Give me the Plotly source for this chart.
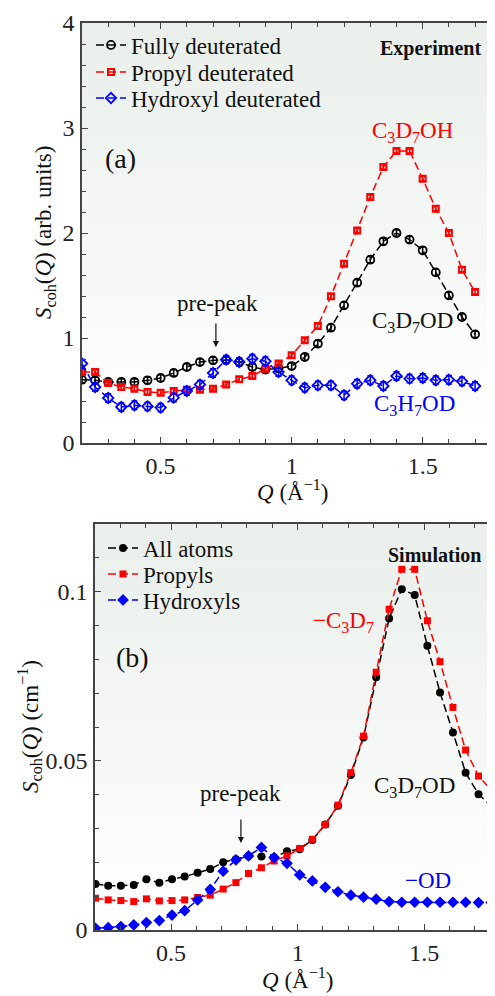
import plotly.graph_objects as go

# ---------------- data ----------------
q_exp = [0.20, 0.25, 0.30, 0.35, 0.40, 0.45, 0.50, 0.55, 0.60, 0.65, 0.70, 0.75, 0.80, 0.85, 0.90, 0.95,
         1.00, 1.05, 1.10, 1.15, 1.20, 1.25, 1.30, 1.35, 1.40, 1.45, 1.50, 1.55, 1.60, 1.65, 1.70]
exp_full = [0.603, 0.597, 0.581, 0.581, 0.581, 0.597, 0.619, 0.667, 0.724, 0.771, 0.787, 0.790, 0.770, 0.724, 0.700, 0.710,
            0.733, 0.819, 0.946, 1.098, 1.311, 1.527, 1.746, 1.921, 2.000, 1.937, 1.835, 1.625, 1.406, 1.200, 1.035]
exp_propyl = [0.676, 0.676, 0.571, 0.533, 0.517, 0.486, 0.479, 0.495, 0.508, 0.508, 0.517, 0.556, 0.606, 0.638, 0.708, 0.756,
              0.835, 0.978, 1.114, 1.397, 1.708, 2.025, 2.343, 2.629, 2.781, 2.781, 2.517, 2.232, 2.000, 1.651, 1.438]
exp_hydroxyl = [0.756, 0.533, 0.429, 0.343, 0.359, 0.349, 0.337, 0.432, 0.495, 0.556, 0.667, 0.794, 0.771, 0.803, 0.778, 0.676,
                0.597, 0.527, 0.549, 0.549, 0.454, 0.565, 0.597, 0.543, 0.638, 0.613, 0.619, 0.597, 0.603, 0.587, 0.543]
err_full = 0.03
err_propyl = 0.02
err_hydroxyl = 0.04

q_sim = [0.202, 0.252, 0.302, 0.353, 0.403, 0.454, 0.504, 0.554, 0.605, 0.655, 0.706, 0.756, 0.806, 0.857, 0.907, 0.958,
         1.008, 1.058, 1.109, 1.159, 1.210, 1.260, 1.310, 1.361, 1.411, 1.462, 1.512, 1.562, 1.613, 1.663, 1.714, 1.764]
sim_all = [0.0136, 0.0131, 0.0131, 0.0133, 0.0150, 0.0140, 0.0150, 0.0158, 0.0169, 0.0180, 0.0200, 0.0209, 0.0219, 0.0217,
           0.0214, 0.0233, 0.0239, 0.0266, 0.0312, 0.0367, 0.0458, 0.0569, 0.0747, 0.0921, 0.1007, 0.0990, 0.0840, 0.0702,
           0.0584, 0.0465, 0.0401, 0.0367]
sim_propyl = [0.0094, 0.0089, 0.0087, 0.0084, 0.0092, 0.0086, 0.0087, 0.0089, 0.0096, 0.0103, 0.0121, 0.0140, 0.0167, 0.0184,
              0.0204, 0.0219, 0.0241, 0.0268, 0.0312, 0.0369, 0.0465, 0.0573, 0.0762, 0.0948, 0.1066, 0.1066, 0.0914, 0.0793,
              0.0658, 0.0532, 0.0455, 0.0414]
sim_hydroxyl = [0.0005, 0.0007, 0.0010, 0.0015, 0.0022, 0.0028, 0.0044, 0.0057, 0.0089, 0.0120, 0.0174, 0.0207, 0.0219, 0.0244,
                0.0214, 0.0197, 0.0163, 0.0145, 0.0126, 0.0113, 0.0103, 0.0097, 0.0091, 0.0084, 0.0082, 0.0082, 0.0082, 0.0082,
                0.0082, 0.0082, 0.0081, 0.0081]

exp_names = ["Fully deuterated", "Propyl deuterated", "Hydroxyl deuterated"]
sim_names = ["All atoms", "Propyls", "Hydroxyls"]

# ---------------- figure ----------------
OFF = 8                    # page body margin
W, H = 495 - OFF, 996 - OFF
FONT = "Liberation Serif"
BLACK, RED, BLUE = "#000000", "#ff0000", "#0000ff"
DASH = "8px,4px"


def px(x):
    return (x - OFF) / W


def py(y):
    return 1 - (y - OFF) / H


fig = go.Figure()

# top panel traces (each legend entry in its own legend box for exact row spacing)
fig.add_trace(go.Scatter(x=q_exp, y=exp_full, name=exp_names[0], mode="lines+markers",
                         line=dict(color=BLACK, width=1.5, dash=DASH),
                         marker=dict(symbol="circle-open", size=8, color=BLACK, line=dict(width=1.8)),
                         error_y=dict(type="constant", value=err_full, color=BLACK, thickness=1.5, width=3),
                         xaxis="x", yaxis="y", legend="legend"))
fig.add_trace(go.Scatter(x=q_exp, y=exp_propyl, name=exp_names[1], mode="lines+markers",
                         line=dict(color=RED, width=1.5, dash=DASH),
                         marker=dict(symbol="square-open", size=6, color=RED, line=dict(width=2)),
                         error_y=dict(type="constant", value=err_propyl, color=RED, thickness=1.5, width=3),
                         xaxis="x", yaxis="y", legend="legend2"))
fig.add_trace(go.Scatter(x=q_exp, y=exp_hydroxyl, name=exp_names[2], mode="lines+markers",
                         line=dict(color=BLUE, width=1.5, dash=DASH),
                         marker=dict(symbol="diamond-open", size=8, color=BLUE, line=dict(width=1.8)),
                         error_y=dict(type="constant", value=err_hydroxyl, color=BLUE, thickness=1.5, width=3),
                         xaxis="x", yaxis="y", legend="legend3"))

# bottom panel traces
fig.add_trace(go.Scatter(x=q_sim, y=sim_all, name=sim_names[0], mode="lines+markers",
                         line=dict(color=BLACK, width=1.5, dash=DASH),
                         marker=dict(symbol="circle", size=8, color=BLACK),
                         xaxis="x2", yaxis="y2", legend="legend4"))
fig.add_trace(go.Scatter(x=q_sim, y=sim_propyl, name=sim_names[1], mode="lines+markers",
                         line=dict(color=RED, width=1.5, dash=DASH),
                         marker=dict(symbol="square", size=7, color=RED),
                         xaxis="x2", yaxis="y2", legend="legend5"))
fig.add_trace(go.Scatter(x=q_sim, y=sim_hydroxyl, name=sim_names[2], mode="lines+markers",
                         line=dict(color=BLUE, width=1.5, dash=DASH),
                         marker=dict(symbol="diamond", size=9, color=BLUE),
                         xaxis="x2", yaxis="y2", legend="legend6"))

# panel geometry (page pixels)
top_l, top_t, top_b = 82, 23, 443
bot_l, bot_t, bot_b = 95, 524, 930

axis_common = dict(showgrid=False, zeroline=False, showline=True, linecolor="#444", linewidth=1.5,
                   ticks="inside", ticklen=6, tickwidth=1.2, tickcolor="#444",
                   tickfont=dict(family=FONT, size=24, color="#222"), automargin=False)
minor_x = dict(dtick=0.1, tick0=0, ticks="inside", ticklen=4, tickcolor="#444")


def leg(x, y):
    return dict(x=px(x), y=py(y), xanchor="left", yanchor="middle", bgcolor="rgba(0,0,0,0)",
                font=dict(family=FONT, size=23, color="#111"), itemwidth=30)


fig.update_layout(
    width=W, height=H, margin=dict(l=0, r=0, t=0, b=0),
    paper_bgcolor="white", plot_bgcolor="white",
    showlegend=True,
    xaxis=dict(domain=[px(top_l), 1], range=[0.2, 1.776], anchor="y", mirror="ticks",
               tickvals=[0.5, 1, 1.5], ticktext=["0.5", "1", "1.5"], minor=minor_x,
               ticklabelstandoff=0, **axis_common),
    yaxis=dict(domain=[py(top_b), py(top_t)], range=[0, 4], anchor="x", mirror=False,
               tickvals=[0, 1, 2, 3, 4],
               minor=dict(dtick=0.2, tick0=0, ticks="inside", ticklen=4, tickcolor="#444"),
               ticklabelstandoff=1, **axis_common),
    xaxis2=dict(domain=[px(bot_l), 1], range=[0.2, 1.779], anchor="y2", mirror="ticks",
                tickvals=[0.5, 1, 1.5], ticktext=["0.5", "1", "1.5"], minor=minor_x,
                ticklabelstandoff=0, **axis_common),
    yaxis2=dict(domain=[py(bot_b), py(bot_t)], range=[0, 0.12], anchor="x2", mirror=False,
                tickvals=[0, 0.05, 0.1], ticktext=["0", "0.05", "0.1"],
                minor=dict(dtick=0.01, tick0=0, ticks="inside", ticklen=4, tickcolor="#444"),
                ticklabelstandoff=1, **axis_common),
    legend=leg(91, 45), legend2=leg(91, 72), legend3=leg(91, 98),
    legend4=leg(103, 548), legend5=leg(103, 574), legend6=leg(103, 600),
)

# background gradient
shapes = []
N = 40
top_col = (234, 239, 235)
for panel in [("x domain", "y domain"), ("x2 domain", "y2 domain")]:
    for i in range(N):
        f = i / (N - 1)
        c = tuple(int(round(top_col[k] + (255 - top_col[k]) * f)) for k in range(3))
        shapes.append(dict(type="rect", xref=panel[0], yref=panel[1], x0=0, x1=1,
                           y0=1 - (i + 1) / N, y1=1 - i / N + 0.001, layer="below",
                           line=dict(width=0), fillcolor="rgb(%d,%d,%d)" % c))
fig.update_layout(shapes=shapes)

ann = []


def text(x, y, s, color="#111", size=23, xanchor="center", **kw):
    ann.append(dict(x=px(x), y=py(y), xref="paper", yref="paper", text=s, showarrow=False,
                    xanchor=xanchor, yanchor="middle",
                    font=dict(family=FONT, size=size, color=color), **kw))


# top panel annotations
text(483, 49, "<b>Experiment</b>", size=20, xanchor="right")
text(120, 158, "(a)", size=28)
text(412, 132, "C<sub>3</sub>D<sub>7</sub>OH", color=RED)
text(412, 322, "C<sub>3</sub>D<sub>7</sub>OD", color="#111")
text(414, 405, "C<sub>3</sub>H<sub>7</sub>OD", color=BLUE)
text(217, 303, "pre-peak")
text(45, 233, "<i>S</i><sub>coh</sub>(<i>Q</i>) (arb. units)", textangle=-90)
text(292, 490, "<i>Q</i> (Å<sup>−1</sup>)")

# bottom panel annotations
text(483, 555, "<b>Simulation</b>", size=20, xanchor="right")
text(132, 657, "(b)", size=28)
text(343, 622, "−C<sub>3</sub>D<sub>7</sub>", color=RED)
text(414, 787, "C<sub>3</sub>D<sub>7</sub>OD", color="#111")
text(428, 880, "−OD", color=BLUE)
text(240, 793, "pre-peak")
text(29, 727, "<i>S</i><sub>coh</sub>(<i>Q</i>) (cm<sup>−1</sup>)", textangle=-90)
text(297, 978, "<i>Q</i> (Å<sup>−1</sup>)")

# arrows
ann.append(dict(x=0.711, y=0.914, xref="x", yref="y", ax=0, ay=-25, showarrow=True,
                arrowhead=2, arrowsize=1, arrowwidth=1.2, arrowcolor="#111", text=""))
ann.append(dict(x=0.776, y=0.0257, xref="x2", yref="y2", ax=0, ay=-25, showarrow=True,
                arrowhead=2, arrowsize=1, arrowwidth=1.2, arrowcolor="#111", text=""))

fig.update_layout(annotations=ann)

fig.write_html("out.html")
